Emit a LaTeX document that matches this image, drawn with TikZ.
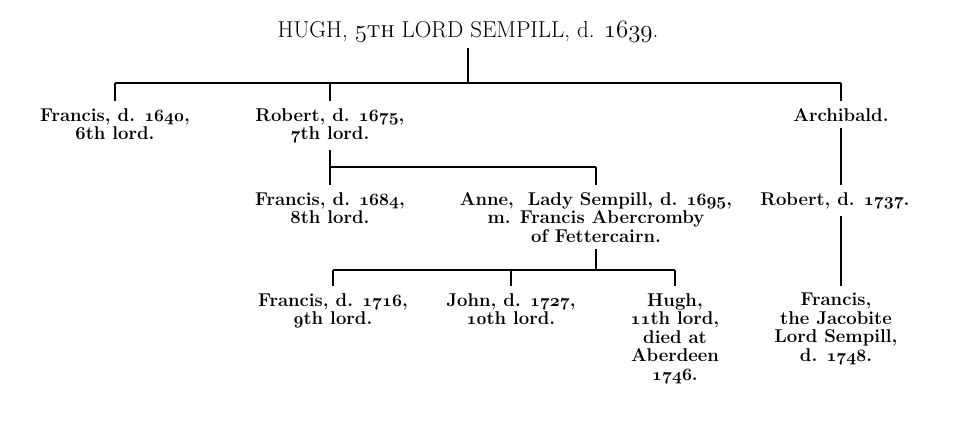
\documentclass[tikz,border=0pt]{standalone}
\usetikzlibrary{positioning}
\newcommand\yr[1]{{\usefont{OML}{cmm}{b}{it}#1}}
\newcommand\yrm[1]{{\usefont{OML}{cmm}{m}{it}#1}}
\tikzset{
    person/.style={font=\bfseries\fontsize{18.5}{18.5}\selectfont, align=center, inner xsep=0pt, inner ysep=7pt, anchor=north},
    line/.style={line width=1.8pt},
}

\begin{document}
\begin{tikzpicture}[x=1pt,y=-1pt]
\useasboundingbox (0,0) rectangle (954,435);
\node[font=\fontsize{23}{23}\selectfont, anchor=base, inner xsep=0pt, inner ysep=5pt] (hugh) at (468,38) {HUGH, \yrm{5}\textsc{th} LORD SEMPILL, d. \yrm{1639}.};

\node[person] (fr6) at (115,101) {Francis, d. \yr{1640},\\ 6th lord.};
\node[person] (rob7) at (330,101) {Robert, d. \yr{1675},\\ \yr{7}th lord.};
\node[person] (arch) at (841,101) {Archibald.};

\node[person] (fr8) at (330,185) {Francis, d. \yr{1684},\\ 8th lord.};
\node[person] (anne) at (596,185) {Anne,\ \ Lady Sempill, d. \yr{1695},\\ m. Francis Abercromby\\ of Fettercairn.};
\node[person] (rob37) at (835,185) {Robert, d. \yr{1737}.};

\node[person] (fr9) at (333,286) {Francis, d. \yr{1716},\\ \yr{9}th lord.};
\node[person] (john) at (511,286) {John, d. \yr{1727},\\ \yr{10}th lord.};
\node[person] (hugh11) at (675,286) {Hugh,\\ \yr{11}th lord,\\ died at\\ Aberdeen\\ \yr{1746}.};
\node[person] (frj) at (836,286) {Francis,\\ the Jacobite\\ Lord Sempill,\\ d. \yr{1748}.};

% bars
\coordinate (bar1) at (0,83);
\coordinate (bar2) at (0,167);
\coordinate (bar3) at (0,270);

\draw[line] (hugh.south) -- (hugh.south |- bar1);
\draw[line] (fr6.north |- bar1) -- (arch.north |- bar1);
\draw[line] (fr6.north |- bar1) -- (fr6.north);
\draw[line] (rob7.north |- bar1) -- (rob7.north);
\draw[line] (arch.north |- bar1) -- (arch.north);

\draw[line] (rob7.south) -- (rob7.south |- bar2);
\draw[line] (fr8.north |- bar2) -- (anne.north |- bar2);
\draw[line] (fr8.north |- bar2) -- (fr8.north);
\draw[line] (anne.north |- bar2) -- (anne.north);

\draw[line] (arch.south) -- (arch.south |- rob37.north);
\draw[line] (arch.south |- rob37.south) -- (arch.south |- frj.north);

\draw[line] (anne.south) -- (anne.south |- bar3);
\draw[line] (fr9.north |- bar3) -- (hugh11.north |- bar3);
\draw[line] (fr9.north |- bar3) -- (fr9.north);
\draw[line] (john.north |- bar3) -- (john.north);
\draw[line] (hugh11.north |- bar3) -- (hugh11.north);
\end{tikzpicture}
\end{document}
